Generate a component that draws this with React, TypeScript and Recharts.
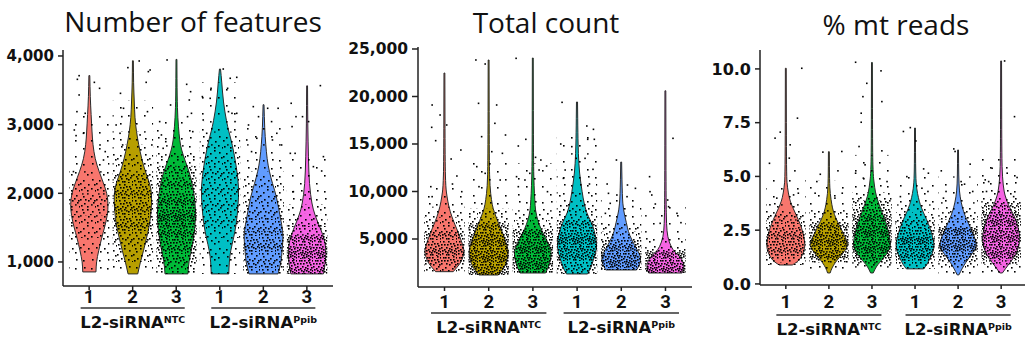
import React from "react";
import { ComposedChart, Bar, Scatter, XAxis, YAxis } from "recharts";

// categories
const groupKeys = ["NTC-1", "NTC-2", "NTC-3", "Ppib-1", "Ppib-2", "Ppib-3"];
const replicateLabels = ["1", "2", "3", "1", "2", "3"];
const conditionLabels = ["L2-siRNA", "L2-siRNA"];
const conditionSups = ["NTC", "Ppib"];
const colors = ["#F8766D", "#B79F00", "#00BA38", "#00BFC4", "#619CFF", "#F564E3"];
// relative number of cells per sample (how dense the jittered points look)
const cellDensity = [0.55, 0.85, 1, 0.6, 0.75, 1];

// violin outlines: [value, half width as share of the category band]
const featuresProfiles: number[][][] = [
  [[855, 0.15], [1000, 0.16], [1160, 0.21], [1350, 0.28], [1510, 0.35], [1680, 0.41], [1840, 0.43], [2000, 0.4], [2150, 0.32], [2320, 0.22], [2500, 0.13], [2710, 0.08], [2900, 0.06], [3145, 0.04], [3400, 0.02], [3715, 0.01]],
  [[826, 0.11], [1000, 0.17], [1160, 0.24], [1350, 0.31], [1510, 0.37], [1750, 0.42], [2000, 0.43], [2150, 0.38], [2320, 0.28], [2500, 0.2], [2710, 0.13], [2900, 0.08], [3100, 0.045], [3350, 0.03], [3600, 0.015], [3930, 0.01]],
  [[826, 0.26], [1000, 0.28], [1260, 0.37], [1500, 0.42], [1740, 0.44], [2000, 0.4], [2230, 0.33], [2400, 0.24], [2560, 0.15], [2700, 0.09], [2855, 0.06], [3100, 0.03], [3400, 0.015], [3950, 0.01]],
  [[826, 0.2], [1000, 0.21], [1160, 0.24], [1350, 0.31], [1550, 0.37], [1800, 0.41], [2090, 0.43], [2400, 0.37], [2710, 0.28], [2900, 0.2], [3040, 0.15], [3330, 0.075], [3620, 0.04], [3810, 0.012]],
  [[826, 0.33], [1000, 0.4], [1160, 0.42], [1300, 0.44], [1450, 0.44], [1650, 0.38], [1940, 0.3], [2150, 0.2], [2320, 0.13], [2500, 0.08], [2710, 0.05], [2950, 0.025], [3290, 0.01]],
  [[826, 0.37], [1000, 0.42], [1220, 0.43], [1400, 0.36], [1550, 0.26], [1700, 0.17], [1840, 0.11], [2130, 0.05], [2520, 0.03], [3000, 0.015], [3565, 0.01]],
];
const countProfiles: number[][][] = [
  [[1560, 0.2], [2470, 0.37], [3200, 0.43], [3840, 0.45], [4600, 0.4], [5630, 0.32], [6500, 0.24], [7320, 0.17], [8400, 0.1], [9420, 0.06], [10470, 0.03], [13000, 0.015], [22470, 0.01]],
  [[1210, 0.22], [2050, 0.37], [3000, 0.43], [3840, 0.45], [4700, 0.39], [5630, 0.32], [6500, 0.24], [7320, 0.17], [8200, 0.1], [9100, 0.065], [10500, 0.03], [13000, 0.015], [23840, 0.01]],
  [[1420, 0.29], [2300, 0.38], [3530, 0.43], [4300, 0.38], [5210, 0.28], [6100, 0.18], [7000, 0.11], [8000, 0.06], [9100, 0.045], [10470, 0.03], [13000, 0.015], [24050, 0.01]],
  [[1320, 0.24], [2000, 0.32], [2790, 0.37], [3500, 0.43], [4580, 0.45], [5500, 0.41], [6260, 0.37], [7000, 0.3], [7740, 0.22], [8800, 0.16], [9840, 0.12], [11950, 0.055], [14000, 0.03], [16000, 0.02], [19420, 0.012]],
  [[1740, 0.35], [2400, 0.43], [3110, 0.45], [3900, 0.36], [4900, 0.24], [5800, 0.16], [6680, 0.12], [8050, 0.05], [9500, 0.025], [13100, 0.01]],
  [[1420, 0.38], [2050, 0.43], [2600, 0.4], [3110, 0.34], [3600, 0.22], [4160, 0.13], [5210, 0.05], [6500, 0.025], [9000, 0.015], [20600, 0.01]],
];
const mtProfiles: number[][][] = [
  [[0.88, 0.15], [1.0, 0.25], [1.2, 0.35], [1.5, 0.42], [1.8, 0.45], [2.2, 0.42], [2.6, 0.37], [3.0, 0.29], [3.34, 0.21], [3.7, 0.13], [4.0, 0.08], [4.46, 0.04], [5.0, 0.015], [10.03, 0.01]],
  [[0.51, 0.03], [0.74, 0.07], [1.0, 0.15], [1.2, 0.23], [1.5, 0.36], [1.8, 0.45], [2.1, 0.4], [2.41, 0.32], [2.75, 0.24], [3.06, 0.16], [3.4, 0.1], [3.67, 0.07], [4.2, 0.03], [4.8, 0.015], [6.15, 0.01]],
  [[0.51, 0.03], [0.8, 0.1], [1.0, 0.18], [1.2, 0.27], [1.5, 0.38], [1.8, 0.44], [2.2, 0.41], [2.74, 0.35], [3.1, 0.28], [3.53, 0.2], [3.9, 0.13], [4.27, 0.08], [4.7, 0.05], [5.07, 0.03], [6.0, 0.015], [10.3, 0.01]],
  [[0.7, 0.2], [0.9, 0.28], [1.2, 0.35], [1.5, 0.42], [1.8, 0.45], [2.2, 0.41], [2.6, 0.35], [3.0, 0.27], [3.34, 0.19], [3.7, 0.12], [4.0, 0.08], [4.4, 0.04], [5.0, 0.015], [7.25, 0.01]],
  [[0.42, 0.02], [0.74, 0.1], [1.0, 0.18], [1.2, 0.25], [1.5, 0.36], [1.8, 0.44], [2.2, 0.38], [2.6, 0.29], [3.0, 0.2], [3.34, 0.13], [3.8, 0.07], [4.3, 0.03], [5.0, 0.015], [6.23, 0.01]],
  [[0.51, 0.03], [0.9, 0.17], [1.1, 0.25], [1.34, 0.33], [1.7, 0.41], [2.13, 0.44], [2.6, 0.4], [3.06, 0.33], [3.4, 0.24], [3.67, 0.17], [4.0, 0.11], [4.27, 0.07], [4.93, 0.03], [6.0, 0.015], [10.37, 0.01]],
];

// isolated cells: [offset from category centre, value]
const featuresOutliers: number[][][] = [
  [[-0.23, 3713], [-0.27, 3660], [0.12, 3616], [0.24, 3529], [-0.23, 3432], [-0.28, 3189], [-0.09, 3165], [-0.34, 2922], [-0.13, 2874], [-0.3, 2840], [0.25, 2704], [0.33, 2485], [-0.36, 2316], [0.37, 2607]],
  [[-0.11, 3830], [0.15, 3927], [0.36, 3772], [0.4, 3796], [-0.28, 3456], [0.31, 3616], [-0.21, 3238], [-0.38, 2995], [-0.29, 2874], [0.34, 3189], [-0.23, 2704], [0.17, 2850], [0.44, 2704], [-0.25, 3116]],
  [[-0.21, 3942], [0.24, 3587], [0.33, 3480], [0.3, 3359], [-0.13, 3286], [0.35, 3165], [0.26, 3116], [-0.34, 2850], [-0.24, 2752], [-0.38, 3044], [0.38, 2898], [-0.3, 2655]],
  [[0.08, 3810], [-0.2, 3529], [-0.4, 3408], [-0.22, 3383], [0.24, 3675], [0.39, 3689], [0.18, 3529], [-0.38, 3068], [0.2, 3189], [0.28, 3165], [0.39, 3165], [-0.3, 2874], [0.35, 3044]],
  [[-0.23, 3262], [0.1, 3238], [0.34, 3238], [-0.11, 3116], [0.19, 3044], [-0.34, 2995], [-0.15, 2801], [-0.38, 2777], [0.31, 2874], [0.42, 2704], [-0.27, 2607], [0.21, 2777]],
  [[0.31, 3568], [-0.36, 3311], [-0.25, 3116], [-0.1, 3116], [0.04, 3044], [-0.34, 2971], [-0.38, 2582], [-0.27, 2582], [0.38, 2534], [0.15, 2388], [0.34, 2325], [-0.31, 2024], [-0.04, 1976]],
];
const countOutliers: number[][][] = [
  [[-0.28, 19105], [-0.1, 18052], [-0.29, 16754], [-0.2, 15350], [0.05, 17000], [0.37, 14367], [0.15, 13420], [0.28, 11630], [-0.31, 10507], [0.18, 10788], [0.39, 9981], [-0.28, 9455]],
  [[-0.29, 23842], [-0.08, 23420], [-0.23, 19280], [0.18, 19105], [-0.16, 15771], [0.14, 17175], [0.38, 15946], [0.07, 14192], [-0.27, 12613], [0.31, 14017], [-0.08, 11911], [-0.22, 10507], [0.26, 11209]],
  [[-0.38, 24017], [-0.16, 15490], [-0.33, 14789], [0.06, 13596], [0.18, 13314], [0.31, 12683], [-0.37, 11560], [0.33, 9981], [-0.18, 11209], [0.14, 12262], [-0.33, 10507], [-0.07, 11911]],
  [[-0.34, 19385], [-0.37, 14999], [-0.12, 14718], [0.22, 16894], [0.37, 16543], [0.24, 15490], [0.39, 15490], [-0.02, 13490], [0.18, 13490], [-0.27, 12262], [0.36, 12332], [-0.31, 11384], [0.28, 10788]],
  [[-0.11, 13314], [0.14, 10683], [0.32, 10332], [-0.32, 10788], [-0.29, 9806], [-0.1, 9630], [0.13, 9455], [0.26, 8402], [-0.25, 8753], [-0.36, 7700]],
  [[0.17, 15596], [-0.36, 11560], [-0.35, 9981], [-0.31, 9630], [0.05, 9104], [-0.23, 8683], [0.07, 8402], [0.26, 7700], [0.35, 6718], [-0.12, 6648]],
];
const mtOutliers: number[][][] = [
  [[0.37, 10.03], [0.27, 7.71], [-0.13, 7.06], [-0.25, 6.78], [0.1, 6.47], [0.08, 5.85], [-0.38, 5.61], [0.21, 5.26], [0.18, 4.14], [0.29, 4.22], [-0.21, 3.99], [-0.37, 3.68]],
  [[-0.14, 6.13], [0.3, 6.16], [0.21, 5.26], [-0.28, 4.76], [-0.2, 5.1], [0.31, 4.22], [0.14, 3.99], [-0.32, 4.22]],
  [[-0.38, 10.31], [0.21, 9.91], [-0.12, 9.33], [-0.21, 8.71], [-0.25, 7.94], [0.23, 8.48], [-0.25, 7.52], [-0.3, 6.39], [0.23, 6.19], [-0.16, 5.54], [-0.38, 5.15], [0.35, 4.76], [-0.2, 4.92]],
  [[-0.27, 7.09], [-0.11, 7.27], [0.02, 6.65], [-0.19, 4.99], [0.2, 5.35], [0.31, 5.15], [0.16, 4.45], [-0.34, 4.06], [0.3, 4.3]],
  [[-0.1, 6.28], [-0.07, 6.16], [0.28, 5.57], [-0.39, 5.26], [0.07, 4.76], [0.15, 4.64], [-0.28, 4.3], [0.34, 4.3], [-0.34, 3.99]],
  [[0.08, 10.37], [0.31, 7.78], [-0.21, 5.38], [-0.37, 4.84], [-0.29, 4.76], [0.14, 5.15], [0.37, 4.95], [-0.34, 4.3], [0.29, 4.06]],
];

const featuresTicks = [1000, 2000, 3000, 4000];
const countTicks = [5000, 10000, 15000, 20000, 25000];
const mtTicks = [0, 2.5, 5, 7.5, 10];

// texture used for the dense jittered cells
const dotTile = [
  [3, 4], [11, 12], [12, 3], [4, 11], [8, 8], [0, 7], [7, 14], [14, 8], [7, 1], [1, 13], [15, 14], [10, 6], [5, 7], [13, 10],
  [2, 1], [9, 11], [15, 1], [5, 14], [11, 15], [3, 9], [9, 3], [13, 5], [6, 4], [1, 10], [7, 10], [15, 11], [4, 1], [10, 9],
  [12, 0], [0, 4], [6, 12], [13, 13], [2, 6], [9, 13], [14, 3], [5, 9], [11, 1], [8, 5], [3, 15], [12, 8],
];
const dotCounts = [0, 2, 4, 7, 11, 15, 20, 26, 32, 40];
const MAX_LVL = dotCounts.length - 1;

const INK = "#222";

const panels = [
  {
    title: "Number of features", titleX: 193, titleY: 32,
    left: 0, width: 340, top: 50, right: 7, bottom: 9, yWidth: 55, plotW: 270,
    domain: [650, 4087], ticks: featuresTicks, fmt: (v: number) => v.toLocaleString("en-US"),
    yFont: 15, tickSize: 5, tickMargin: 4,
    profiles: featuresProfiles, outliers: featuresOutliers, dens: 1.3,
    axisY: 286, numDy: 17, lineDy: 22, grpDy: 42, lineExt: 8.5,
  },
  {
    title: "Total count", titleX: 546, titleY: 33,
    left: 345, width: 350, top: 47, right: 3, bottom: 8, yWidth: 65, plotW: 274,
    domain: [-53, 25210], ticks: countTicks, fmt: (v: number) => v.toLocaleString("en-US"),
    yFont: 15.5, tickSize: 6, tickMargin: 4,
    profiles: countProfiles, outliers: countOutliers, dens: 2.2,
    axisY: 287, numDy: 21, lineDy: 26, grpDy: 46, lineExt: 13.5,
  },
  {
    title: "% mt reads", titleX: 896, titleY: 35,
    left: 690, width: 337, top: 50, right: 0, bottom: 10, yWidth: 62, plotW: 267,
    domain: [-0.05, 10.88], ticks: mtTicks, fmt: (v: number) => v.toFixed(1),
    yFont: 16, tickSize: 5, tickMargin: 4,
    profiles: mtProfiles, outliers: mtOutliers, dens: 2.2,
    axisY: 285, numDy: 23, lineDy: 30, grpDy: 50, lineExt: 9.5,
  },
];

type Panel = (typeof panels)[number];

function smooth(pts: number[][]) {
  const mid = (a: number[], b: number[]) => `${(a[0] + b[0]) / 2},${(a[1] + b[1]) / 2}`;
  let d = ` L${mid(pts[0], pts[1])}`;
  for (let i = 1; i < pts.length - 1; i++) {
    d += ` Q${pts[i][0]},${pts[i][1]} ${mid(pts[i], pts[i + 1])}`;
  }
  const last = pts[pts.length - 1];
  return d + ` L${last[0]},${last[1]}`;
}

function ViolinShape(props: any) {
  const { x, y, width, height, payload, dens } = props;
  const prof: number[][] = payload.profile;
  const idx: number = payload.idx;
  const lo = prof[0][0];
  const hi = prof[prof.length - 1][0];
  const top = Math.min(y, y + height);
  const bottom = Math.max(y, y + height);
  const toY = (v: number) => bottom - ((v - lo) / (hi - lo)) * (bottom - top);
  const cx = x + width / 2;
  const right = prof.map(([v, w]) => [cx + w * width, toY(v)]);
  const left = prof.map(([v, w]) => [cx - w * width, toY(v)]).reverse();
  const d = `M${right[0][0]},${right[0][1]}` + smooth(right) + ` L${left[0][0]},${left[0][1]}` + smooth(left) + " Z";

  const strips = [];
  for (let i = 0; i < prof.length - 1; i++) {
    const w = (prof[i][1] + prof[i + 1][1]) / 2;
    const lvl = Math.max(0, Math.min(MAX_LVL, Math.round((cellDensity[idx] * dens * w) / 0.45 * 7)));
    if (lvl === 0) continue;
    const y1 = toY(prof[i + 1][0]);
    const y2 = toY(prof[i][0]);
    strips.push(
      <rect key={i} x={cx - 0.46 * width} y={y1} width={0.92 * width} height={y2 - y1} fill={`url(#dots-${idx}-${lvl})`} />
    );
  }
  return (
    <g>
      <path d={d} fill={colors[idx]} stroke="#2a2a2a" strokeWidth={1} />
      {strips}
    </g>
  );
}

const CellDot = (props: any) => (
  <rect x={props.cx - 0.8} y={props.cy - 0.8} width={1.6} height={1.6} fill="#000" />
);

function GroupTick(props: any) {
  const { x, payload, cfg } = props;
  const i = groupKeys.indexOf(payload.value);
  const unit = cfg.plotW / 6.2;
  const c = Math.floor(i / 3);
  return (
    <g>
      <text x={x} y={cfg.axisY + cfg.numDy} textAnchor="middle" fontFamily="Roboto" fontWeight={700} fontSize={18.5} fill="#111">
        {replicateLabels[i]}
      </text>
      {i % 3 === 1 && (
        <g>
          <line x1={x - unit - cfg.lineExt} x2={x + unit + cfg.lineExt} y1={cfg.axisY + cfg.lineDy} y2={cfg.axisY + cfg.lineDy} stroke="#333" strokeWidth={1.3} />
          <text x={x} y={cfg.axisY + cfg.grpDy} textAnchor="middle" fontFamily="DejaVu Sans" fontWeight={700} fontSize={16.5} fill="#111">
            {conditionLabels[c]}
            <tspan fontSize={9.5} dy={-5.5}>{conditionSups[c]}</tspan>
          </text>
        </g>
      )}
    </g>
  );
}

function ViolinPanel({ cfg }: { cfg: Panel }) {
  const rows = groupKeys.map((key, i) => ({
    key,
    idx: i,
    profile: cfg.profiles[i],
    range: [cfg.profiles[i][0][0], cfg.profiles[i][cfg.profiles[i].length - 1][0]],
  }));
  const points = cfg.outliers.flatMap((list, i) => list.map(([dx, v]) => ({ x: i + 1 + dx, y: v })));
  const pad = cfg.plotW / 62;
  return (
    <div style={{ position: "absolute", left: cfg.left, top: 0 }}>
      <ComposedChart
        width={cfg.width}
        height={345}
        data={rows}
        margin={{ top: cfg.top, right: cfg.right, bottom: cfg.bottom, left: 8 }}
        barCategoryGap={0}
      >
        <XAxis
          xAxisId="cat"
          dataKey="key"
          type="category"
          interval={0}
          padding={{ left: pad, right: pad }}
          height={50}
          tickSize={4}
          tickLine={{ stroke: INK, strokeWidth: 1.5 }}
          axisLine={{ stroke: INK, strokeWidth: 1.5 }}
          tick={(p: any) => <GroupTick {...p} cfg={cfg} />}
        />
        <XAxis xAxisId="num" dataKey="x" type="number" domain={[0.4, 6.6]} allowDataOverflow hide />
        <YAxis
          dataKey="y"
          type="number"
          domain={cfg.domain}
          allowDataOverflow
          ticks={cfg.ticks}
          interval={0}
          width={cfg.yWidth}
          tickSize={cfg.tickSize}
          tickMargin={cfg.tickMargin}
          tickFormatter={cfg.fmt}
          tickLine={{ stroke: INK, strokeWidth: 1.5 }}
          axisLine={{ stroke: INK, strokeWidth: 1.5 }}
          tick={{ fill: "#111", fontFamily: "DejaVu Sans", fontWeight: 700, fontSize: cfg.yFont }}
        />
        <Bar xAxisId="cat" dataKey="range" isAnimationActive={false} shape={(p: any) => <ViolinShape {...p} dens={cfg.dens} />} />
        <Scatter xAxisId="num" data={points} dataKey="y" shape={CellDot} isAnimationActive={false} />
      </ComposedChart>
    </div>
  );
}

export default function App() {
  return (
    <div style={{ position: "absolute", left: 0, top: 0, width: 1025, height: 345, overflow: "hidden", background: "#fff" }}>
      <svg width={1025} height={345} style={{ position: "absolute", left: 0, top: 0, pointerEvents: "none" }}>
        <defs>
          {colors.map((_, g) =>
            dotCounts.map((n, l) =>
              l === 0 ? null : (
                <pattern key={`${g}-${l}`} id={`dots-${g}-${l}`} x={g * 5} y={g * 7} width={16} height={16} patternUnits="userSpaceOnUse">
                  {dotTile.slice(0, n).map(([a, b], k) => (
                    <rect key={k} x={a} y={b} width={1.6} height={1.6} fill="#000" />
                  ))}
                </pattern>
              )
            )
          )}
        </defs>
        {panels.map((p) => (
          <text key={p.title} x={p.titleX} y={p.titleY} textAnchor="middle" fontFamily="Open Sans" fontSize={28} fill="#111">
            {p.title}
          </text>
        ))}
      </svg>
      {panels.map((p) => (
        <ViolinPanel key={p.title} cfg={p} />
      ))}
    </div>
  );
}
